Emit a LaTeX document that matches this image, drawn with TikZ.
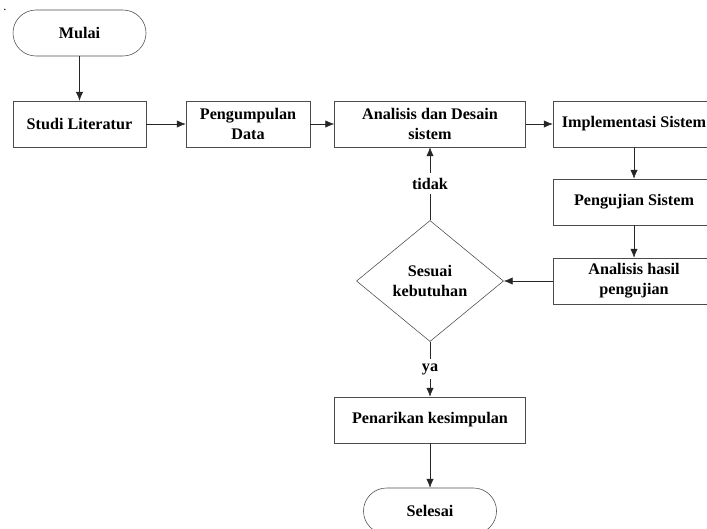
\documentclass[tikz,border=0pt]{standalone}
\usepackage{fontspec}
\setmainfont{Liberation Serif}
\usetikzlibrary{shapes.geometric, arrows.meta}

\begin{document}
\begin{tikzpicture}[x=0.025cm, y=-0.025cm, >={Latex[length=2.2mm, width=1.8mm]},
    every node/.style={font=\fontsize{11.5}{14}\selectfont\bfseries, align=center},
    proses/.style={draw=black!70, rectangle, minimum height=1.15cm, inner sep=0pt},
    terminal/.style={draw=black!70, rectangle, rounded corners=0.575cm, minimum width=3.325cm, minimum height=1.15cm},
    keputusan/.style={draw=black!70, diamond, minimum width=3.675cm, minimum height=3.025cm, inner sep=0pt},
    panah/.style={->, black!85}]
        \clip (0,0) rectangle (707,528);
        \node[font=\small, anchor=base west, inner sep=0pt] (titik) at (3,10) {.};
        \node[terminal] (mulai) at (79.5,33) {Mulai};
        \node[proses, minimum width=3.325cm] (studi) at (79.5,124) {Studi Literatur};
        \node[proses, minimum width=3.1cm] (kumpul) at (248,124) {Pengumpulan\\Data};
        \node[proses, minimum width=4.775cm] (desain) at (430,124) {Analisis dan Desain\\sistem};
        \node[proses, minimum width=4.05cm] (implementasi) at (634,124) {Implementasi Sistem};
        \node[proses, minimum width=4.05cm] (uji) at (634,202) {Pengujian Sistem};
        \node[proses, minimum width=4.05cm] (hasil) at (634,281) {Analisis hasil\\pengujian};
        \node[keputusan] (sesuai) at (430,281) {Sesuai\\kebutuhan};
        \node[proses, minimum width=4.775cm] (tarik) at (430,420) {Penarikan kesimpulan};
        \node[terminal] (selesai) at (430,511) {Selesai};
        \draw[panah] (mulai) -- (studi);
        \draw[panah] (studi) -- (kumpul);
        \draw[panah] (kumpul) -- (desain);
        \draw[panah] (desain) -- (implementasi);
        \draw[panah] (implementasi) -- (uji);
        \draw[panah] (uji) -- (hasil);
        \draw[panah] (hasil) -- (sesuai);
        \draw[panah] (sesuai) -- node[fill=white, text=black] (tidak) {tidak} (desain);
        \draw[panah] (sesuai) -- node[fill=white, text=black] (ya) {ya} (tarik);
        \draw[panah] (tarik) -- (selesai);
\end{tikzpicture}
\end{document}
